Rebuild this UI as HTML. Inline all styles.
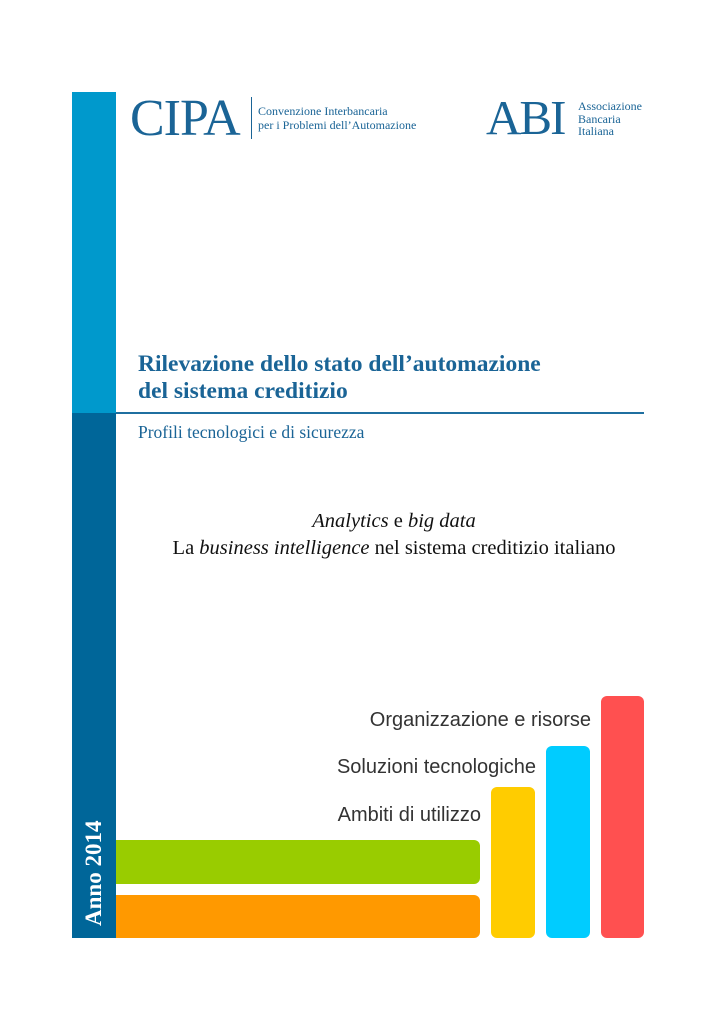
<!DOCTYPE html>
<html><head><meta charset="utf-8"><style>
body{margin:0;width:724px;height:1024px;background:#fff;position:relative;overflow:hidden;font-family:"Liberation Serif",serif}
.a{position:absolute}
.s{font-family:"Liberation Sans",sans-serif;color:#333;font-size:20px;white-space:nowrap;text-align:right}
</style></head><body>
<div class="a" style="left:72px;top:92px;width:44px;height:321px;background:#0099cc"></div>
<div class="a" style="left:72px;top:413px;width:44px;height:525px;background:#006699"></div>
<div class="a" style="left:116px;top:412px;width:528px;height:2px;background:#1f6fa0"></div>

<div class="a" style="left:130px;top:92px;font-size:52px;color:#1a6496;letter-spacing:-1px;line-height:54px">CIPA</div>
<div class="a" style="left:251px;top:97px;width:1px;height:42px;background:#1a6496"></div>
<div class="a" style="left:258px;top:104px;font-size:12px;color:#1a6496;line-height:14px">Convenzione Interbancaria<br>per i Problemi dell’Automazione</div>
<div class="a" style="left:486px;top:93px;font-size:49px;color:#1a6496;letter-spacing:-2px;line-height:50px">ABI</div>
<div class="a" style="left:578px;top:100px;font-size:12px;color:#1a6496;line-height:12.5px">Associazione<br>Bancaria<br>Italiana</div>

<div class="a" style="left:138px;top:351px;font-size:23.5px;font-weight:bold;color:#1a6496;line-height:27px">Rilevazione dello stato dell’automazione<br>del sistema creditizio</div>
<div class="a" style="left:138px;top:422px;font-size:17.5px;color:#1a6496">Profili tecnologici e di sicurezza</div>
<div class="a" style="left:116px;width:556px;top:508px;text-align:center;font-size:20.5px;color:#111;line-height:27px"><i>Analytics</i> e <i>big data</i><br>La <i>business intelligence</i> nel sistema creditizio italiano</div>

<div class="a" style="left:80px;top:926px;transform:rotate(-90deg);transform-origin:0 0;width:130px;font-size:23px;font-weight:bold;color:#fff;line-height:28px;white-space:nowrap">Anno 2014</div>

<div class="a" style="left:116px;top:840px;width:364px;height:44px;background:#99cc00;border-radius:0 6px 6px 0"></div>
<div class="a" style="left:116px;top:895px;width:364px;height:43px;background:#ff9900;border-radius:0 6px 6px 0"></div>
<div class="a" style="left:491px;top:787px;width:44px;height:151px;background:#ffcc00;border-radius:6px"></div>
<div class="a" style="left:546px;top:746px;width:44px;height:192px;background:#00ccff;border-radius:6px"></div>
<div class="a" style="left:601px;top:696px;width:43px;height:242px;background:#ff5050;border-radius:6px"></div>

<div class="a s" style="right:133px;top:709px">Organizzazione e risorse</div>
<div class="a s" style="right:188px;top:756px">Soluzioni tecnologiche</div>
<div class="a s" style="right:243px;top:804px">Ambiti di utilizzo</div>
</body></html>
